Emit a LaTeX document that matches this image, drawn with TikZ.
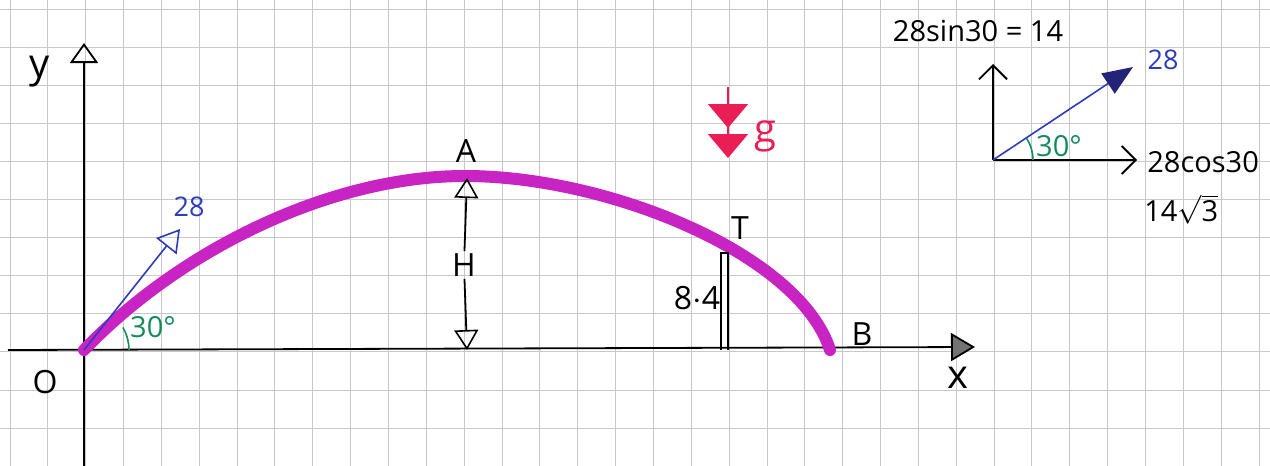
\documentclass[tikz,border=0pt]{standalone}
\usepackage{fontspec}
\setmainfont{Open Sans}
\usetikzlibrary{arrows.meta}
\definecolor{gridc}{RGB}{200,200,200}
\definecolor{trajc}{RGB}{200,35,195}
\definecolor{velc}{RGB}{45,60,190}
\definecolor{angc}{RGB}{20,140,90}
\definecolor{gravc}{RGB}{232,30,85}
\definecolor{navyc}{RGB}{35,35,120}
\begin{document}
\begin{tikzpicture}[x=0.5pt,y=-0.5pt,
  gridline/.style={gridc, line width=0.5pt},
  axisline/.style={black, line width=0.9pt},
  traj/.style={trajc, line width=6pt, line cap=round},
  vel/.style={velc, line width=0.8pt},
  angarc/.style={angc, line width=0.8pt},
  lbl/.style={inner sep=1pt, font=\fontsize{16}{18}\selectfont},
  midlbl/.style={inner sep=1pt, font=\fontsize{14.5}{17}\selectfont},
  smalllbl/.style={inner sep=1pt, font=\fontsize{13.5}{16}\selectfont},
  opentri/.style={-{Triangle[open,width=14pt,length=10pt,line width=0.9pt]}},
]
\useasboundingbox (0,0) rectangle (1270,466);
\fill[white] (0,0) rectangle (1270,466);
% grid
\foreach \i in {0,...,33} \draw[gridline] ({10+\i*37.85},0) -- ({10+\i*37.85},466);
\foreach \j in {0,...,12} \draw[gridline] (0,{9+\j*38.1}) -- (1270,{9+\j*38.1});

% coordinates
\coordinate (O) at (84,350);
\coordinate (ybot) at (84,466);
\coordinate (ytop) at (84,43);
\coordinate (xleft) at (8,350);
\coordinate (xright) at (975,347);
\coordinate (A) at (465,176);
\coordinate (Bpt) at (830,350);
\coordinate (vtip) at (180,229);

% axes
\draw[axisline, opentri] (ybot) -- (ytop);
\draw[axisline, -{Triangle[width=14pt,length=12pt,fill=black!55,line width=0.9pt]}] (xleft) -- (xright);

% trajectory
\draw[traj] (O) .. controls (180,250) and (330,176) .. (A)
                .. controls (610,176) and (800,255) .. (Bpt);

% velocity vector at O
\draw[vel, -{Triangle[open,width=13pt,length=11pt,line width=0.8pt]}] (O) -- (vtip);
\node[smalllbl, text=velc] (v28) at (189,207) {28};
\draw[angarc] (129,350) arc[start angle=0, end angle=-30, radius=45];
\node[midlbl, text=angc] (a30) at (153,327) {30°};

% labels
\node[lbl, font=\fontsize{20}{22}\selectfont] (ylab) at (40,72) {y};
\node[lbl] (Olab) at (45,382) {O};
\node[lbl, font=\fontsize{20}{22}\selectfont] (xlab) at (958,378) {x};
\node[lbl] (Alab) at (466,151) {A};
\node[lbl] (Blab) at (862,334) {B};
\node[lbl] (Tlab) at (740,228) {T};

% H
\coordinate (Htop) at (467,178);
\coordinate (Hbot) at (467,350);
\node[lbl] (Hlab) at (464,265) {H};
\draw[axisline, -{Triangle[open,width=12pt,length=10pt,line width=0.8pt]}] (Hlab) -- (Htop);
\draw[axisline, -{Triangle[open,width=12pt,length=10pt,line width=0.8pt]}] (Hlab) -- (Hbot);

% T height
\coordinate (Tbl) at (721,350);
\coordinate (Ttl) at (721,253);
\coordinate (Ttr) at (728,253);
\coordinate (Tbr) at (728,350);
\draw[axisline] (Tbl) -- (Ttl) -- (Ttr) -- (Tbr);
\node[lbl] (hT) at (697,298) {8$\cdot$4};

% gravity
\coordinate (gtop) at (728,87);
\coordinate (gbot) at (728,158);
\draw[gravc, line width=0.9pt, -{Triangle[width=20pt,length=12pt,fill=gravc,sep=3pt] Triangle[width=20pt,length=12pt,fill=gravc]}] (gtop) -- (gbot);
\node[lbl, text=gravc, font=\fontsize{20}{22}\selectfont] (glab) at (765,136) {g};

% inset
\coordinate (O2) at (993,160);
\coordinate (iy) at (993,64);
\coordinate (ix) at (1137,160);
\coordinate (iv) at (1133,67);
\draw[axisline, -{Straight Barb[width=14pt,length=7pt,line width=0.9pt]}] (O2) -- (iy);
\draw[axisline, -{Straight Barb[width=14pt,length=7pt,line width=0.9pt]}] (O2) -- (ix);
\draw[vel, -{Triangle[width=12pt,length=15pt,fill=navyc,color=navyc]}] (O2) -- (iv);
\draw[angarc] (1033,160) arc[start angle=0, end angle=-33, radius=40];
\node[midlbl, text=angc] (a30b) at (1059,146) {30°};
\node[smalllbl, text=velc] (v28b) at (1163,60) {28};
\node[midlbl] (sinlab) at (978,31) {28sin30 = 14};
\node[midlbl, anchor=west] (coslab) at (1145,162) {28cos30};
\node[midlbl, anchor=west, inner sep=0pt] (rootlab) at (1144,211) {14$\smash{\sqrt{\mbox{3}}}$};
\end{tikzpicture}
\end{document}
